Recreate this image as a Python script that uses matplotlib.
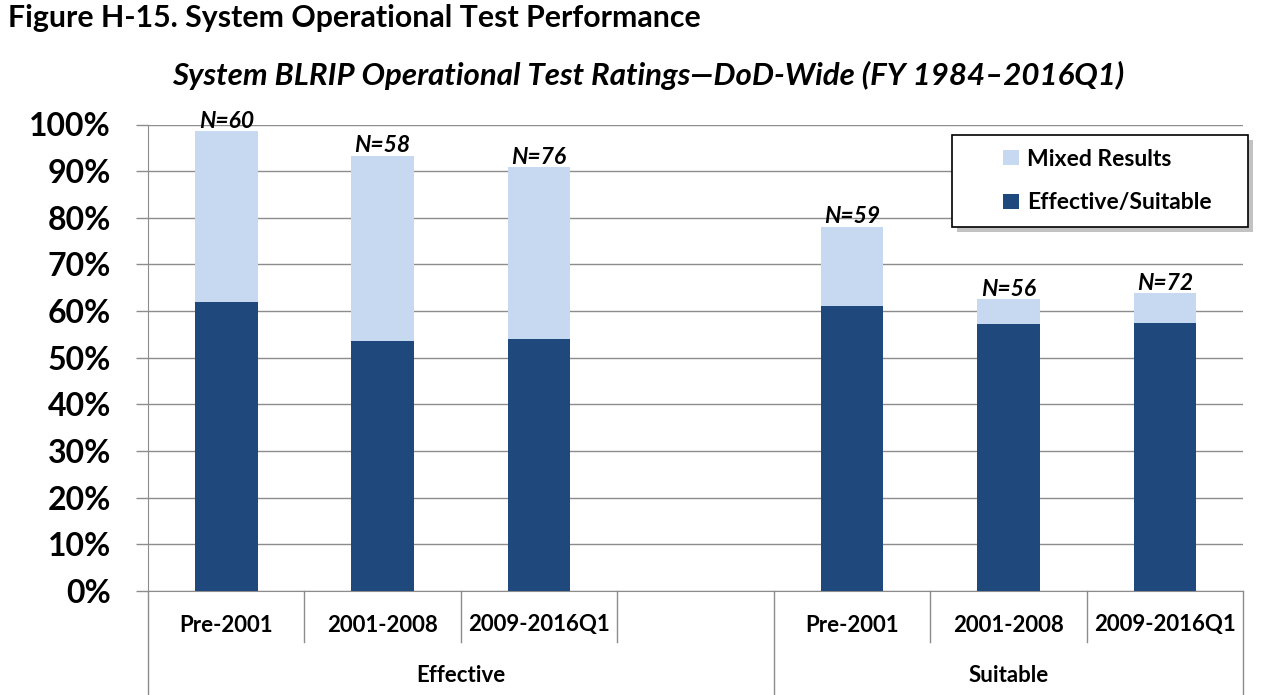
import matplotlib
matplotlib.use("Agg")
import matplotlib.pyplot as plt
from matplotlib.transforms import blended_transform_factory
from matplotlib.patches import Rectangle, Patch
from matplotlib.lines import Line2D
from matplotlib.ticker import PercentFormatter

plt.rcParams['font.family'] = ['Lato', 'DejaVu Sans']

# ---- data ----
categories = ['Pre-2001', '2001-2008', '2009-2016Q1', '', 'Pre-2001', '2001-2008', '2009-2016Q1']
groups = ['Effective', 'Suitable']
effective_suitable = [0.619, 0.536, 0.540, None, 0.611, 0.572, 0.574]
total_with_mixed = [0.985, 0.933, 0.909, None, 0.781, 0.626, 0.639]
n_labels = ['N=60', 'N=58', 'N=76', None, 'N=59', 'N=56', 'N=72']
yticks = [i / 10 for i in range(11)]

DARK = '#1F497D'
LIGHT = '#C6D9F1'
GRID = '#8c8c8c'

W, H = 1263, 695
fig = plt.figure(figsize=(W / 100, H / 100), dpi=100)
ax = fig.add_axes([148 / W, (H - 591) / H, 1095 / W, 466.5 / H])

xs = [i for i, v in enumerate(effective_suitable) if v is not None]
dark_vals = [effective_suitable[i] for i in xs]
mixed_vals = [total_with_mixed[i] - effective_suitable[i] for i in xs]

ax.bar(xs, dark_vals, width=0.40, color=DARK, zorder=3, label='Effective/Suitable')
ax.bar(xs, mixed_vals, bottom=dark_vals, width=0.40, color=LIGHT, zorder=3, label='Mixed Results')

for i in xs:
    ax.annotate(n_labels[i], (i, total_with_mixed[i]), xytext=(0, -0.5), textcoords='offset points',
                ha='center', va='bottom', fontsize=16.5, fontweight='bold', fontstyle='italic',
                zorder=4, annotation_clip=False)

ax.set_xlim(-0.5, 6.5)
ax.set_ylim(0, 1)
ax.set_yticks(yticks)
ax.yaxis.set_major_formatter(PercentFormatter(1.0, decimals=0))
ax.tick_params(axis='y', length=8.6, width=1, color=GRID, pad=18, labelsize=23)
for lab in ax.get_yticklabels():
    lab.set_fontweight('bold')
ax.set_xticks([])
ax.yaxis.grid(True, color=GRID, lw=1, zorder=0)
ax.set_axisbelow(True)
for s in ['top', 'right']:
    ax.spines[s].set_visible(False)
ax.spines['left'].set_color(GRID)
ax.spines['bottom'].set_color(GRID)

trans = blended_transform_factory(ax.transData, ax.transAxes)
px = 1 / 466.5
for i, c in enumerate(categories):
    if c:
        ax.text(i, -(625 - 591) * px, c, transform=trans, ha='center', va='center',
                fontsize=16, fontweight='bold')
ax.text(1.5, -(675 - 591) * px, groups[0], transform=trans, ha='center', va='center',
        fontsize=16, fontweight='bold')
ax.text(5.0, -(675 - 591) * px, groups[1], transform=trans, ha='center', va='center',
        fontsize=16, fontweight='bold')

short_seps = [0.5, 1.5, 2.5, 4.5, 5.5]
long_seps = [-0.5, 3.5, 6.5]
for x in short_seps:
    ax.add_line(Line2D([x, x], [0, -(642 - 591) * px], transform=trans, color=GRID, lw=1, clip_on=False))
for x in long_seps:
    ax.add_line(Line2D([x, x], [0, -(700 - 591) * px], transform=trans, color=GRID, lw=1, clip_on=False))

# legend frame with shadow
fig.patches.append(Rectangle((957 / W, 1 - 232 / H), 296 / W, 92 / H, transform=fig.transFigure,
                             facecolor='#9a9a9a', edgecolor='none', alpha=0.6, zorder=5))
fig.patches.append(Rectangle((952 / W, 1 - 227 / H), 296 / W, 92 / H, transform=fig.transFigure,
                             facecolor='white', edgecolor='black', lw=1.2, zorder=6))
handles = [Patch(facecolor=LIGHT, edgecolor='none'), Patch(facecolor=DARK, edgecolor='none')]
leg = fig.legend(handles, ['Mixed Results', 'Effective/Suitable'], loc='center left',
                 bbox_to_anchor=(992 / W, 1 - 181 / H), frameon=False,
                 prop={'size': 16.5, 'weight': 'bold'}, handlelength=0.67, handleheight=0.67,
                 handletextpad=0.35, labelspacing=1.0, borderpad=0)
leg.set_zorder(7)

fig.text(8 / W, 1 - 18 / H, 'Figure H-15. System Operational Test Performance',
         ha='left', va='center', fontsize=21.8, fontweight='bold')
fig.text(648 / W, 1 - 75 / H, 'System BLRIP Operational Test Ratings\u2014DoD-Wide (FY 1984\u20132016Q1)',
         ha='center', va='center', fontsize=22.5, fontweight='bold', fontstyle='italic')

fig.savefig('out.png', dpi=100)
